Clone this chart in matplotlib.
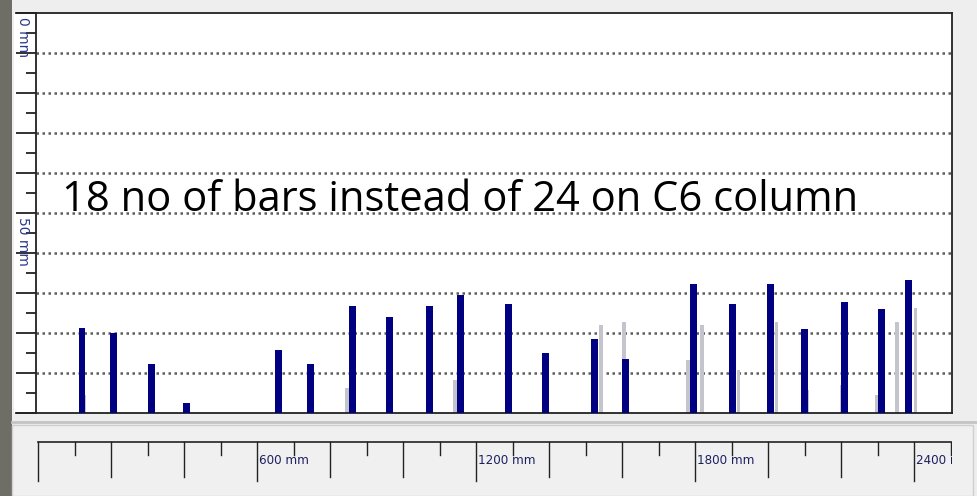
import matplotlib
matplotlib.use('Agg')
import matplotlib.pyplot as plt
from matplotlib.patches import Rectangle
from matplotlib.lines import Line2D
import numpy as np

# bar positions along the scan (mm) and depth of the bar top (mm, 0 = top)
bar_pos = [120, 207, 311, 405, 659, 746, 860, 961, 1073, 1156, 1287,
           1389, 1523, 1609, 1794, 1902, 2005, 2099, 2209, 2310, 2384]
bar_top = [78.8, 79.9, 87.8, 97.6, 84.3, 87.8, 73.3, 76.1, 73.3, 70.5, 72.8,
           84.9, 81.6, 86.6, 67.8, 72.8, 67.8, 78.9, 72.3, 73.9, 66.8]

# faint grey raw-signal spikes behind the bars
ghost_pos = [125, 846, 1142, 1293, 1542, 1605, 1780, 1819, 1918, 2022,
             2107, 2200, 2296, 2353, 2403]
ghost_top = [95.5, 93.8, 91.8, 84.3, 78.0, 77.3, 86.8, 78.0, 89.3, 77.3,
             94.3, 93.0, 95.5, 77.3, 73.8]

ruler_major = [0, 600, 1200, 1800, 2400]
ruler_labels = ['600 mm', '1200 mm', '1800 mm', '2400 mm']
depth_labels = ['0 mm', '50 mm']
note = '18 no of bars instead of 24 on C6 column'

W, H = 978, 496
fig = plt.figure(figsize=(W / 100, H / 100), dpi=100)
fig.patch.set_facecolor('#eeeeee')

def fx(px):
    return px / W

def fy(py):
    return 1 - py / H

# photo edge on the left and white strip for the depth scale
fig.add_artist(Rectangle((0, 0), fx(12), 1, transform=fig.transFigure,
                         facecolor='#6e6e66', edgecolor='none', zorder=-2))
fig.add_artist(Rectangle((fx(14), fy(413)), fx(22), fy(13) - fy(413),
                         transform=fig.transFigure, facecolor='white',
                         edgecolor='none', zorder=-2))

ax = fig.add_axes([fx(36), fy(413), fx(952 - 36), fy(13) - fy(413)])
xlim = (-6, 2503)
ax.set_xlim(*xlim)
ax.set_ylim(100, 0)
ax.set_facecolor('white')

for y in range(10, 100, 10):
    ax.axhline(y, color='#5c5c5c', lw=1.8, ls=(0, (1, 1.4)), zorder=1)

ax.bar(ghost_pos, [100 - t for t in ghost_top], bottom=ghost_top, width=10,
       color='#c4c4cc', edgecolor='none', zorder=2)
ax.bar(bar_pos, [100 - t for t in bar_top], bottom=bar_top, width=19,
       color='#000080', edgecolor='none', zorder=3)

ax.set_xticks([])
ax.set_yticks(np.arange(0, 101, 10))
ax.set_yticks(np.arange(5, 100, 10), minor=True)
ax.tick_params(axis='y', which='major', direction='out', length=14.4,
               width=1.3, color='#222222', labelleft=False)
ax.tick_params(axis='y', which='minor', direction='out', length=7.2,
               width=1.3, color='#222222')
for s in ax.spines.values():
    s.set_color('#222222')
    s.set_linewidth(1.3)

for lab, d in zip(depth_labels, [0, 50]):
    ax.text(-0.0142, d + 1, lab, transform=ax.get_yaxis_transform(),
            rotation=-90, ha='center', va='top', fontsize=10,
            color='#2a3a8a', family='DejaVu Sans', clip_on=False)

# top and bottom frame lines run on to the left edge of the scale strip
for py in (13, 413):
    fig.add_artist(Line2D([fx(16), fx(36)], [fy(py), fy(py)],
                          transform=fig.transFigure, color='#222222', lw=1.3))

ax.text(0.028, 0.505, note, transform=ax.transAxes, fontsize=30,
        family='Open Sans', color='black', ha='left', va='baseline',
        zorder=5)

# lower ruler panel
fig.add_artist(Line2D([fx(12), fx(978)], [fy(422), fy(422)],
                      transform=fig.transFigure, color='#c4c4c4', lw=2,
                      zorder=-1))
fig.add_artist(Rectangle((fx(12), 0), fx(973 - 12), fy(425),
                         transform=fig.transFigure, facecolor='#f0f0f0',
                         edgecolor='#cfcfcf', lw=1, zorder=-1))

rax = fig.add_axes([fx(36), 0, fx(952 - 36), fy(426)])
rax.set_xlim(*xlim)
rax.set_ylim(496, 426)
rax.axis('off')
rax.plot([0, 2500], [442, 442], color='#222222', lw=1.2)
for mm in range(0, 2501, 100):
    if mm in ruler_major:
        end = 481
    elif mm % 200 == 0:
        end = 477
    else:
        end = 455
    rax.plot([mm, mm], [442, end], color='#222222', lw=1.0)
for mm, lab in zip(ruler_major[1:], ruler_labels):
    rax.text(mm + 4, 461, lab, ha='left', va='center', fontsize=9.5,
             color='#1c2060', family='DejaVu Sans', stretch='condensed',
             clip_on=True)

fig.savefig('out.png', dpi=100, facecolor=fig.get_facecolor())
